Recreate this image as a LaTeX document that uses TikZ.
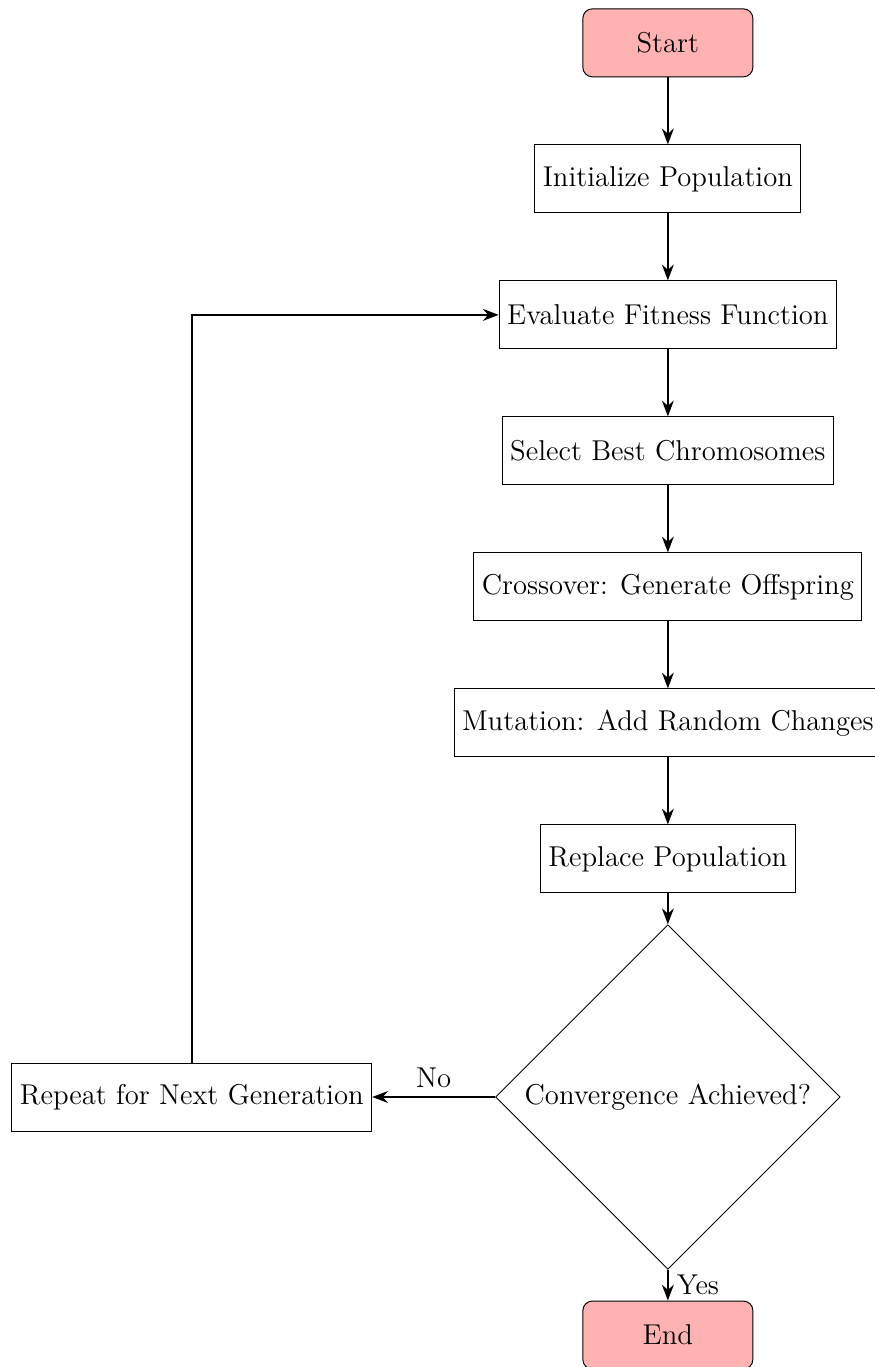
\documentclass[tikz,border=0pt]{standalone}
\usepackage{tikz}
\usetikzlibrary{positioning, shapes.geometric, arrows.meta}

\begin{document}
\begin{tikzpicture}[
    node distance=1cm,
    font=\large,
    startstop/.style={rectangle, draw, fill=red!30, minimum width=2.5cm, minimum height=1cm, rounded corners},
    process/.style={rectangle, draw, minimum height=1cm, align=center},
    decision/.style={diamond, draw, align=center},
    arrow/.style={->, >=Stealth, thick}
]
\useasboundingbox (-9.82,0.63) rectangle (3.04,-19.47);

\node[startstop] (start) at (0,0) {Start};
\node[process] (init) at (0,-2) {Initialize Population};
\node[process] (eval) at (0,-4) {Evaluate Fitness Function};
\node[process] (select) at (0,-6) {Select Best Chromosomes};
\node[process] (cross) at (0,-8) {Crossover: Generate Offspring};
\node[process] (mutate) at (0,-10) {Mutation: Add Random Changes};
\node[process] (replace) at (0,-12) {Replace Population};
\node[decision] (conv) at (0,-15.5) {Convergence Achieved?};
\node[process] (repeat) at (-7,-15.5) {Repeat for Next Generation};
\node[startstop] (end) at (0,-19) {End};

\draw[arrow] (start) -- (init);
\draw[arrow] (init) -- (eval);
\draw[arrow] (eval) -- (select);
\draw[arrow] (select) -- (cross);
\draw[arrow] (cross) -- (mutate);
\draw[arrow] (mutate) -- (replace);
\draw[arrow] (replace) -- (conv);
\draw[arrow] (conv) -- node[above] {No} (repeat);
\draw[arrow] (conv) -- node[right] {Yes} (end);
\draw[arrow] (repeat) |- (eval);

\end{tikzpicture}
\end{document}
